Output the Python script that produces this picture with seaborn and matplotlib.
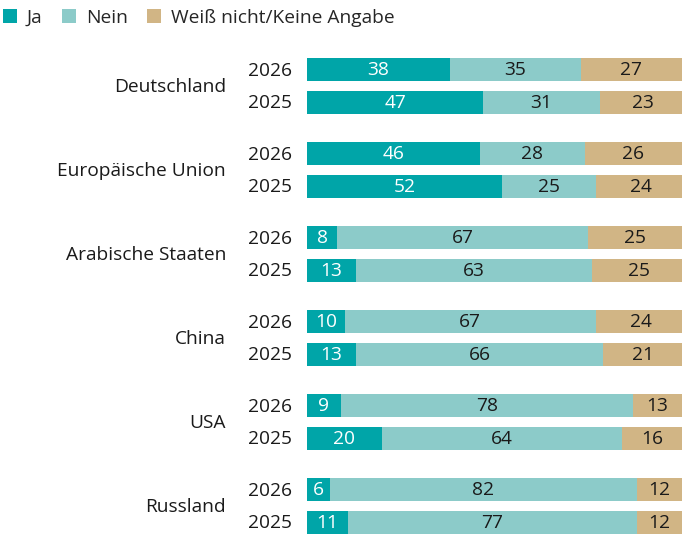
import matplotlib
matplotlib.use("Agg")
import matplotlib.pyplot as plt
import seaborn as sns
from matplotlib.patches import Patch

countries = ["Deutschland", "Europäische Union", "Arabische Staaten", "China", "USA", "Russland"]
years = ["2026", "2025"]
ja = [38, 47, 46, 52, 8, 13, 10, 13, 9, 20, 6, 11]
nein = [35, 31, 28, 25, 67, 63, 67, 66, 78, 64, 82, 77]
weiss = [27, 23, 26, 24, 25, 25, 24, 21, 13, 16, 12, 12]
series = ["Ja", "Nein", "Weiß nicht/Keine Angabe"]
colors = ["#00a5a8", "#8ccbc9", "#d1b585"]
text_colors = ["white", "#1a1a1a", "#1a1a1a"]

sns.set_style("white")
plt.rcParams["font.family"] = ["Open Sans", "DejaVu Sans"]

W, H = 682, 535
fs = 13.8
fig = plt.figure(figsize=(W / 100, H / 100), dpi=100)
ax = fig.add_axes([307 / W, 0, 375 / W, 1])
ax.set_xlim(0, 100)
ax.set_ylim(H, 0)
ax.axis("off")

# row centres in pixel units
ypos = []
for g in range(len(countries)):
    for k in range(len(years)):
        ypos.append(69.5 + 84 * g + 32.5 * k)

left = [0] * len(ja)
for vals, col, tcol in zip([ja, nein, weiss], colors, text_colors):
    ax.barh(ypos, vals, left=left, height=23, color=col, linewidth=0)
    for y, l, v in zip(ypos, left, vals):
        ax.text(l + v / 2, y + 0.5, str(v), ha="center", va="center",
                fontsize=fs, color=tcol)
    left = [a + b for a, b in zip(left, vals)]

# year and country labels
for i, y in enumerate(ypos):
    fig.text(292 / W, 1 - (y + 1) / H, years[i % 2], ha="right", va="center",
             fontsize=fs, color="#1a1a1a")
for g, c in enumerate(countries):
    yc = (ypos[2 * g] + ypos[2 * g + 1]) / 2
    fig.text(226 / W, 1 - (yc + 1.5) / H, c, ha="right", va="center",
             fontsize=fs, color="#1a1a1a")

handles = [Patch(facecolor=c, edgecolor="none") for c in colors]
fig.legend(handles, series, loc="upper left", bbox_to_anchor=(-0.021, 1.016),
           ncol=3, frameon=False, fontsize=fs, handlelength=0.75,
           handleheight=0.75, handletextpad=0.5, columnspacing=1.0)

fig.savefig("out.png", dpi=100)
